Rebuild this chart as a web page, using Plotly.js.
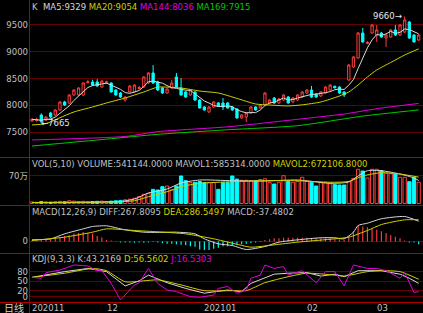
<!DOCTYPE html>
<html><head><meta charset="utf-8">
<script src="https://cdn.plot.ly/plotly-3.0.1.min.js"></script>
<style>html,body{margin:0;padding:0;background:#000;}#chart{width:423px;height:313px;}</style>
</head><body><div id="chart"></div>
<script>
// ---- data ----
const monthLabels = ['202011','12','202101','02','03'];
const monthStartIdx = [0,16,37,59,74];

const opens = [7709,7715,7820,7727,7858,7820,7914,8063,8045,8194,
 8194,8194,8425,8436,8436,8343,8420,8418,8287,8231,
 8100,8250,8250,8315,8343,8418,8604,8436,8324,8231,
 8324,8530,8324,8250,8194,8250,8100,7970,7877,7970,
 8045,8045,8045,7970,7933,7765,7783,7858,7970,7951,
 8007,8045,8138,8045,8100,8156,8063,8100,8156,8231,
 8287,8212,8175,8231,8287,8355,8343,8250,8474,8716,
 8884,9351,9155,9351,9313,9351,9257,9276,9407,9313,
 9369,9556,9313,9220];
const highs = [7760,7770,7850,7800,7880,7930,8080,8085,8210,8300,
 8340,8430,8470,8480,8490,8470,8460,8430,8300,8250,
 8170,8380,8395,8360,8545,8620,8754,8460,8340,8320,
 8474,8604,8511,8265,8300,8265,8115,7985,7985,8080,
 8060,8138,8060,7985,7950,7840,7875,7985,7985,8020,
 8245,8115,8155,8135,8210,8175,8155,8210,8265,8300,
 8362,8230,8265,8360,8395,8370,8360,8265,8770,8920,
 9370,9444,9200,9515,9500,9370,9330,9425,9500,9515,
 9660,9575,9330,9330];
const lows = [7695,7700,7665,7710,7770,7800,7900,7990,8030,8180,
 8180,8180,8410,8370,8350,8330,8400,8240,8180,8140,
 8070,8240,8240,8300,8330,8400,8400,8270,8215,8215,
 8310,8330,8180,8140,8180,8085,7940,7900,7858,7955,
 7975,7914,7940,7900,7750,7750,7690,7845,7900,7940,
 7990,8030,8030,8030,8085,8030,8050,8085,8140,8215,
 8140,8140,8160,8215,8270,8315,8215,8156,8460,8700,
 8870,9170,9140,9335,9183,9260,9090,9260,9295,9295,
 9350,9240,9170,9200];
const closes = [7740,7735,7695,7783,7783,7914,8063,8007,8194,8287,
 8324,8418,8440,8380,8362,8455,8440,8250,8194,8156,
 8156,8362,8380,8335,8530,8604,8418,8287,8231,8306,
 8418,8343,8194,8156,8287,8100,7951,7914,7970,8063,
 7989,7970,7951,7914,7765,7820,7858,7970,7914,8007,
 8231,8100,8045,8119,8194,8045,8138,8194,8250,8287,
 8156,8156,8250,8343,8380,8330,8231,8194,8754,8903,
 9351,9183,9175,9500,9407,9276,9313,9407,9313,9500,
 9593,9257,9183,9313];

const ma5 = [7740,7738,7723,7738,7747,7782,7848,7910,7992,8093,
 8175,8246,8333,8370,8385,8411,8415,8377,8340,8299,
 8239,8224,8250,8278,8353,8442,8453,8435,8414,8369,
 8332,8317,8298,8283,8280,8216,8138,8082,8044,8000,
 7977,7981,7989,7977,7918,7884,7862,7865,7865,7914,
 7996,8044,8059,8100,8138,8101,8108,8138,8164,8183,
 8205,8209,8220,8238,8257,8292,8307,8296,8378,8482,
 8687,8877,9073,9222,9323,9308,9334,9381,9343,9362,
 9425,9414,9369,9335];
const ma20Idx = [0,3,6,9,13,16,20,24,27,32,36,40,44,48,51,55,58,62,66,68,70,72,74,77,80,83];
const ma20 = [7635,7660,7770,7877,7970,8045,8138,8250,8340,8324,8268,8231,8130,8026,8007,7990,8010,8063,8175,8250,8380,8530,8660,8800,8940,9054];
const ma144Idx = [0,20,27,42,57,67,75,83];
const ma144 = [7355,7420,7510,7600,7740,7839,7951,8036];
const ma169Idx = [0,16,27,42,57,71,83];
const ma169 = [7242,7370,7460,7545,7621,7800,7915];

const volume = [40000,30000,50000,40000,35000,45000,55000,45000,70000,60000,
 50000,55000,45000,50000,55000,60000,50000,60000,70000,80000,
 95000,110000,135000,175000,235000,260000,360000,344000,428000,445000,
 344000,445000,700000,580000,530000,540000,560000,530000,530000,530000,
 361000,530000,530000,700000,620000,590000,590000,580000,580000,610000,
 630000,530000,496000,540000,708000,560000,540000,560000,667000,560000,
 540000,445000,530000,540000,500000,480000,470000,470000,560000,640000,
 870000,827000,650000,870000,870000,835000,768000,760000,750000,667000,
 667000,555000,667000,541144];
const mavol1Idx = [0,19,22,25,29,32,36,43,50,57,64,68,70,72,75,79,82,83];
const mavol1 = [25000,51000,115000,267000,369000,522000,598000,580000,573000,598000,514000,547000,700000,835000,835000,750000,650000,585314];
const mavol2Idx = [0,19,22,25,29,32,36,43,50,57,64,68,71,75,79,83];
const mavol2 = [25000,45000,71000,173000,300000,428000,514000,555000,580000,580000,540000,560000,700000,784000,750000,672107];

const diffIdx = [0,4,7,11,13,16,20,24,27,31,35,37,40,43,46,50,53,57,62,65,67,69,70,72,75,80,83];
const diff = [22,35,101,167,198,207,154,123,120,123,101,35,-31,-53,-106,-66,-9,22,49,49,35,123,211,242,300,330,268];
const deaIdx = [0,7,13,16,22,27,33,39,43,47,52,57,65,68,72,75,80,83];
const dea = [13,57,123,167,145,128,101,35,-22,-75,-44,-9,35,57,145,224,286,287];
const macdHist = [13,13,21,21,29,42,54,71,84,105,
 113,126,113,105,71,54,21,13,-5,-13,
 -13,-13,-17,-13,-17,-13,-8,-13,-21,-29,
 -29,-38,-42,-50,-63,-71,-105,-113,-113,-96,
 -84,-63,-63,-54,-42,-38,-29,-21,-13,-8,
 21,29,42,42,50,50,50,50,50,50,
 46,42,42,42,42,29,29,21,63,134,
 210,197,189,168,155,134,113,84,63,42,
 13,-13,-13,-37];

const kIdx = [0,7,12,16,20,23,25,29,33,37,42,45,47,52,55,59,62,65,67,70,75,79,81,83];
const kVal = [62,80,90,80,35,51,69,45,27,12,22,17,43,72,75,77,66,72,64,83,83,72,59,43];
const dIdx = [0,7,13,16,20,24,27,32,37,43,46,50,55,59,65,67,72,75,79,83];
const dVal = [62,75,90,83,48,51,54,38,20,20,20,45,64,75,69,66,80,83,80,56];
const jIdx = [0,2,3,6,9,12,14,15,17,19,22,23,25,27,29,31,34,36,39,40,42,44,46,47,49,50,52,54,55,58,61,63,65,67,69,72,74,76,79,80,82,83];
const jVal = [62,59,77,85,101,98,83,83,43,-9,38,45,90,43,22,17,1,-1,6,27,33,12,22,59,69,101,90,96,69,83,45,80,80,35,101,90,90,83,59,77,14,17];

const priceTicks = [7500,8000,8500,9000,9500];
const volTickVals = [700000];
const volTickText = ['70万'];
const kdjTicks = [0,20,50,80];

// ---- drawing ----
const idx = closes.map((_, i) => i);
const RED = '#ff3c3c', CYAN = '#00ffff', WHITE = '#d8d8d8', YEL = '#d0d000', MAG = '#e000e0', GRN = '#00c800';
const up = closes.map((c, i) => c >= opens[i]);
const W = 423, H = 313, L = 29, B = 11, PW = W - L, PH = H - B;
const px = x => (x - L) / PW;
const py = y => (PH - y) / PH;
const FONT = 'DejaVu Sans, Noto Sans CJK SC, sans-serif';

function line(x, y, color, ax, shape) {
  return {type:'scatter', mode:'lines', x:x, y:y, yaxis:ax, xaxis:'x',
    line:{color:color, width:1, shape:shape||'linear', smoothing:0.6}, hoverinfo:'skip'};
}

const traces = [
  {type:'candlestick', x:idx, open:opens, high:highs, low:lows, close:closes, xaxis:'x', yaxis:'y',
   increasing:{line:{color:RED, width:1}, fillcolor:'#000000'},
   decreasing:{line:{color:CYAN, width:1}, fillcolor:CYAN},
   whiskerwidth:0, hoverinfo:'skip'},
  line(idx, ma5, WHITE, 'y'),
  line(ma20Idx, ma20, YEL, 'y', 'spline'),
  line(ma144Idx, ma144, MAG, 'y', 'spline'),
  line(ma169Idx, ma169, GRN, 'y', 'spline'),
  {type:'bar', x:idx, y:volume, xaxis:'x', yaxis:'y2', width:0.7,
   marker:{color:up.map(u => u ? '#000000' : CYAN), line:{color:up.map(u => u ? RED : CYAN), width:1}}, hoverinfo:'skip'},
  line(mavol1Idx, mavol1, WHITE, 'y2', 'spline'),
  line(mavol2Idx, mavol2, YEL, 'y2', 'spline'),
  {type:'bar', x:idx, y:macdHist, xaxis:'x', yaxis:'y3', width:0.25,
   marker:{color:macdHist.map(v => v >= 0 ? RED : CYAN), line:{width:0}}, hoverinfo:'skip'},
  line(diffIdx, diff, WHITE, 'y3', 'spline'),
  line(deaIdx, dea, YEL, 'y3', 'spline'),
  line(kIdx, kVal, WHITE, 'y4'),
  line(dIdx, dVal, YEL, 'y4', 'spline'),
  line(jIdx, jVal, MAG, 'y4')
];

const yCommon = {showgrid:true, gridcolor:'#640000', gridwidth:1, zeroline:false, showline:false,
  ticks:'', fixedrange:true, tickfont:{family:FONT, size:8.5, color:'#c0c0c0'}};

const sp = '\u00a0';
function ann(text, xpix, ypix, extra) {
  return Object.assign({text:text, xref:'paper', yref:'paper', x:px(xpix), y:py(ypix),
    xanchor:'left', yanchor:'middle', showarrow:false, borderpad:0,
    font:{family:FONT, size:8.5, color:'#c0c0c0'}}, extra || {});
}
const c = (col, t) => '<span style="color:' + col + '">' + t + '</span>';

const annotations = [
  ann('K' + sp + sp + c(WHITE, 'MA5:9329') + sp + c(YEL, 'MA20:9054') + sp + c(MAG, 'MA144:8036') + sp + c(GRN, 'MA169:7915'), 31, 7),
  ann('VOL(5,10)' + sp + 'VOLUME:541144.0000' + sp + 'MAVOL1:585314.0000' + sp + c(YEL, 'MAVOL2:672106.8000'), 31, 164),
  ann('MACD(12,26,9)' + sp + 'DIFF:267.8095' + sp + c(YEL, 'DEA:286.5497') + sp + 'MACD:-37.4802', 31, 212),
  ann('KDJ(9,3,3)' + sp + 'K:43.2169' + sp + c(YEL, 'D:56.5602') + sp + c(MAG, 'J:16.5303'), 31, 259),
  ann('日线', 14, 308, {xanchor:'center', font:{family:FONT, size:10, color:'#d0d0d0'}}),
  {text:'9660→', xref:'x', yref:'y', x:80, y:highs[80], xanchor:'right', yanchor:'middle', xshift:-2,
   showarrow:false, borderpad:0, font:{family:FONT, size:8.5, color:'#e8e8e8'}},
  {text:'←7665', xref:'x', yref:'y', x:2, y:lows[2], xanchor:'left', yanchor:'middle', xshift:-1,
   showarrow:false, borderpad:0, font:{family:FONT, size:8.5, color:'#e8e8e8'}}
];
monthLabels.forEach((t, k) => {
  annotations.push({text:t, xref:'x', yref:'paper', x:monthStartIdx[k], y:py(308), xanchor:'left', yanchor:'middle',
    xshift:-1, showarrow:false, borderpad:0, font:{family:FONT, size:8.5, color:'#c0c0c0'}});
});

const shapes = [157, 205, 253, 302].map(y => ({type:'line', xref:'paper', yref:'paper',
  x0:px(0), x1:1, y0:py(y + 0.5), y1:py(y + 0.5), line:{color:'#b00000', width:1}}));
shapes.push({type:'line', xref:'paper', yref:'paper', x0:px(29.5), x1:px(29.5), y0:py(313), y1:1,
  line:{color:'#b00000', width:1}});

const layout = {
  width:W, height:H, margin:{l:L, r:0, t:0, b:B, pad:0},
  paper_bgcolor:'#000000', plot_bgcolor:'#000000', showlegend:false, barmode:'overlay',
  font:{family:FONT, color:'#c0c0c0'},
  xaxis:{range:[-0.64, 83.93], showticklabels:false, showgrid:false, zeroline:false, showline:false,
    ticks:'', fixedrange:true, rangeslider:{visible:false}},
  yaxis:Object.assign({}, yCommon, {domain:[py(157), 1], range:[7037, 9966], tickvals:priceTicks}),
  yaxis2:Object.assign({}, yCommon, {domain:[py(205), py(157)], range:[-38000, 1183000],
    tickvals:volTickVals, ticktext:volTickText}),
  yaxis3:Object.assign({}, yCommon, {domain:[py(253), py(205)], range:[-152, 482], tickvals:[0], ticktext:['0']}),
  yaxis4:Object.assign({}, yCommon, {domain:[0, py(253)], range:[-15.8, 138.8], tickvals:kdjTicks}),
  annotations:annotations, shapes:shapes
};

Plotly.newPlot('chart', traces, layout, {staticPlot:true, displayModeBar:false});
</script>
</body></html>
